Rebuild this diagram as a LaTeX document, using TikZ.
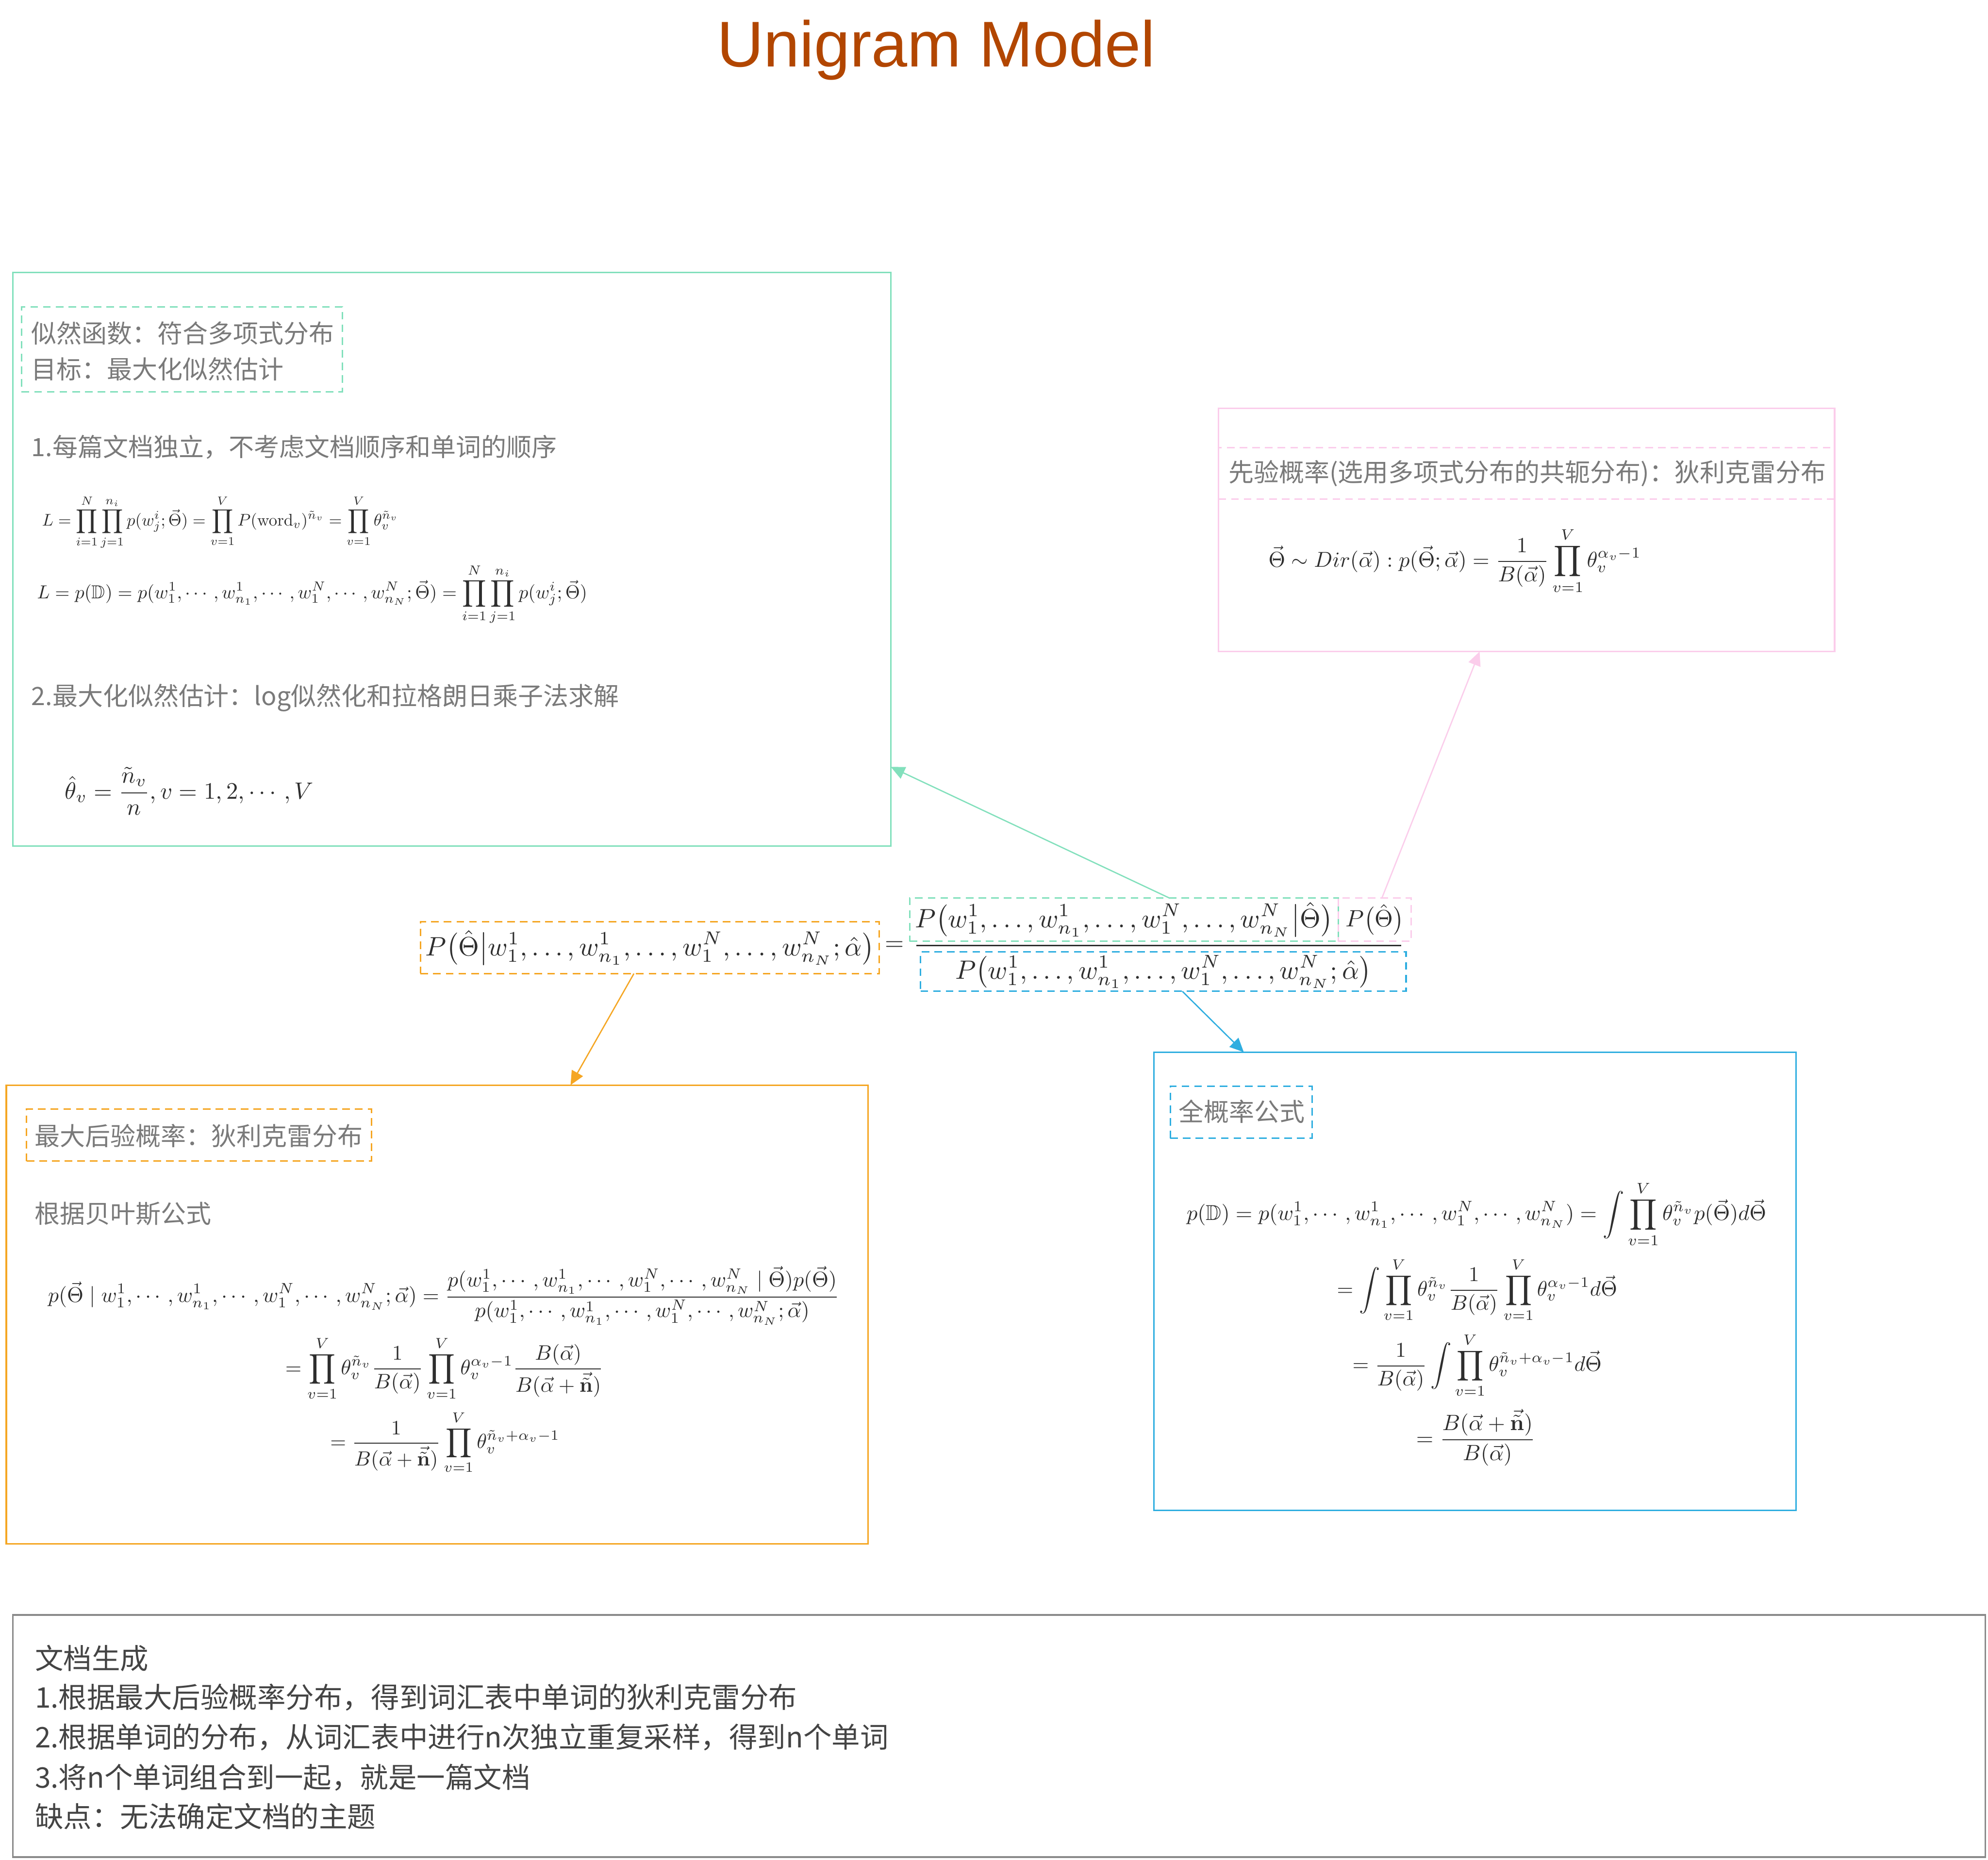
\documentclass[tikz,border=0pt]{standalone}
\usepackage[no-math]{fontspec}
\usepackage{amsmath,amssymb}
\usepackage{graphicx}
\usetikzlibrary{arrows.meta}
\setmainfont{Noto Sans CJK SC}
\newfontfamily\titlefont{Liberation Sans}
\definecolor{cgreen}{HTML}{82E0BC}
\definecolor{cpink}{HTML}{FBCDEB}
\definecolor{corange}{HTML}{F5A623}
\definecolor{cblue}{HTML}{2FAEE0}
\definecolor{cgray}{HTML}{8A8A8A}
\definecolor{labelgray}{HTML}{7A7A7A}
\definecolor{darktext}{HTML}{444444}
\definecolor{mathgray}{HTML}{2E2E2E}
\definecolor{ctitle}{HTML}{B24600}
\newcommand{\wseqc}{w_1^1,\cdots,w_{n_1}^1,\cdots,w_1^N,\cdots,w_{n_N}^N}
\newcommand{\wseql}{w_1^1,\ldots,w_{n_1}^1,\ldots,w_1^N,\ldots,w_{n_N}^N}
\newcommand{\vnt}{\vec{\tilde{\mathbf{n}}}}
\newcommand{\meq}[2]{\resizebox{#1pt}{!}{$\displaystyle #2$}}
\tikzset{
  box/.style={draw, line width=1.2pt, inner sep=0pt, outer sep=0pt, anchor=north west},
  dbox/.style={draw, line width=1.2pt, dash pattern=on 6pt off 4pt, inner sep=0pt, outer sep=0pt, text=mathgray},
  lbl/.style={font=\fontsize{19.9}{24}\selectfont, text=labelgray, inner sep=0pt, anchor=west},
  glbl/.style={font=\fontsize{22.4}{28}\selectfont, text=darktext, inner sep=0pt, anchor=west},
  eq/.style={inner sep=0pt, text=mathgray},
  arr/.style={line width=1pt, -{Triangle[length=11pt,width=10pt]}},
}
\begin{document}
\begin{tikzpicture}[x=1pt,y=-1pt]
\fill[white] (0,0) rectangle (1568,1467);
\useasboundingbox (0,0) rectangle (1568,1467);

% title
\node[anchor=base, font=\titlefont\fontsize{51}{60}\selectfont, text=ctitle, inner sep=0pt] (title) at (738.5,52.5) {Unigram Model};

% likelihood box
\node[box, draw=cgreen, minimum width=692.6pt, minimum height=452.5pt] (lik) at (10,215) {};
\node[dbox, draw=cgreen, minimum width=253pt, minimum height=67pt, anchor=north west] (likT) at (17,242) {};
\node[lbl] (likT1) at (24.6,263) {似然函数：符合多项式分布};
\node[lbl] (likT2) at (24.6,291) {目标：最大化似然估计};
\node[lbl] (likS1) at (24.6,352.6) {1.每篇文档独立，不考虑文档顺序和单词的顺序};
\node[eq, anchor=west] (likE1) at (33,412) {\meq{281}{L = \prod_{i=1}^N \prod_{j=1}^{n_i} p(w_j^i;\vec{\Theta}) = \prod_{v=1}^V P(\mathrm{word}_v)^{\tilde{n}_v} = \prod_{v=1}^V \theta_v^{\tilde{n}_v}}};
\node[eq, anchor=west] (likE2) at (29,469) {\meq{434}{L = p(\mathbb{D}) = p(\wseqc;\vec{\Theta}) = \prod_{i=1}^N\prod_{j=1}^{n_i} p(w_j^i;\vec{\Theta})}};
\node[lbl] (likS2) at (24.6,550.5) {2.最大化似然估计：log似然化和拉格朗日乘子法求解};
\node[eq, anchor=west] (likE3) at (51,624) {\meq{196}{\hat{\theta}_v = \frac{\tilde{n}_v}{n}, v = 1,2,\cdots,V}};

% prior box
\node[box, draw=cpink, minimum width=486pt, minimum height=192pt] (prior) at (961,322) {};
\node[dbox, draw=cpink, minimum width=486pt, minimum height=40.7pt, anchor=north west] (priorT) at (961,353) {};
\node[lbl, anchor=center] (priorL) at (1204.6,373.4) {先验概率(选用多项式分布的共轭分布)：狄利克雷分布};
\node[eq] (priorE) at (1147.5,442.4) {\meq{294}{\vec{\Theta} \sim Dir(\vec{\alpha}) : p(\vec{\Theta};\vec{\alpha}) = \frac{1}{B(\vec{\alpha})}\prod_{v=1}^V\theta_v^{\alpha_v-1}}};

% central Bayes formula
\node[dbox, draw=corange, minimum width=361.7pt, minimum height=41pt] (lhs) at (512.5,747.5) {\meq{354}{P\bigl(\hat{\Theta}\big|\wseql;\hat{\alpha}\bigr)}};
\node[eq] (eqsign) at (705.5,746) {\meq{15}{=}};
\node[dbox, draw=cgreen, minimum width=338pt, minimum height=34.2pt] (numG) at (886.55,725.4) {\meq{329.4}{P\bigl(\wseql\big|\hat{\Theta}\bigr)}};
\node[dbox, draw=cpink, minimum width=57.5pt, minimum height=34.2pt] (numP) at (1084.25,725.4) {\meq{46}{P\bigl(\hat{\Theta}\bigr)}};
\draw[line width=1.2pt, mathgray] (722.7,746) -- (1105.3,746);
\node[dbox, draw=cblue, minimum width=383pt, minimum height=31pt] (den) at (917.5,766.5) {\meq{328}{P\bigl(\wseql;\hat{\alpha}\bigr)}};

% posterior box
\node[box, draw=corange, minimum width=679.6pt, minimum height=362pt] (post) at (5,856) {};
\node[dbox, draw=corange, minimum width=272pt, minimum height=41pt, anchor=north west] (postT) at (21,875) {};
\node[lbl] (postL) at (27.2,896) {最大后验概率：狄利克雷分布};
\node[lbl] (postS) at (27.2,957.4) {根据贝叶斯公式};
\node[eq] (postE1) at (350,1022) {\meq{624}{p(\vec{\Theta}\mid\wseqc;\vec{\alpha}) = \frac{p(\wseqc\mid\vec{\Theta})p(\vec{\Theta})}{p(\wseqc;\vec{\alpha})}}};
\node[eq] (postE2) at (350.5,1079.5) {\meq{251}{= \prod_{v=1}^V\theta_v^{\tilde{n}_v}\frac{1}{B(\vec{\alpha})}\prod_{v=1}^V\theta_v^{\alpha_v-1}\frac{B(\vec{\alpha})}{B(\vec{\alpha}+\vnt)}}};
\node[eq] (postE3) at (351,1138) {\meq{181}{= \frac{1}{B(\vec{\alpha}+\vnt)}\prod_{v=1}^V\theta_v^{\tilde{n}_v+\alpha_v-1}}};

% total probability box
\node[box, draw=cblue, minimum width=506.6pt, minimum height=361.5pt] (total) at (910,830) {};
\node[dbox, draw=cblue, minimum width=112pt, minimum height=41pt, anchor=north west] (totalT) at (923,857) {};
\node[lbl] (totalL) at (929.5,877) {全概率公式};
\node[eq] (totE1) at (1164.5,958) {\meq{457}{p(\mathbb{D}) = p(\wseqc) = \int\prod_{v=1}^V\theta_v^{\tilde{n}_v}p(\vec{\Theta})d\vec{\Theta}}};
\node[eq] (totE2) at (1165,1017.5) {\meq{221}{= \int\prod_{v=1}^V\theta_v^{\tilde{n}_v}\frac{1}{B(\vec{\alpha})}\prod_{v=1}^V\theta_v^{\alpha_v-1}d\vec{\Theta}}};
\node[eq] (totE3) at (1165,1077) {\meq{196.5}{= \frac{1}{B(\vec{\alpha})}\int\prod_{v=1}^V\theta_v^{\tilde{n}_v+\alpha_v-1}d\vec{\Theta}}};
\node[eq] (totE4) at (1164,1134) {\meq{94}{= \frac{B(\vec{\alpha}+\vnt)}{B(\vec{\alpha})}}};

% document generation box
\node[box, draw=cgray, minimum width=1556pt, minimum height=191pt] (gen) at (10,1274) {};
\node[glbl] (gen1) at (27.4,1308) {文档生成};
\node[glbl] (gen2) at (27.4,1339) {1.根据最大后验概率分布，得到词汇表中单词的狄利克雷分布};
\node[glbl] (gen3) at (27.4,1370.5) {2.根据单词的分布，从词汇表中进行n次独立重复采样，得到n个单词};
\node[glbl] (gen4) at (27.4,1402) {3.将n个单词组合到一起，就是一篇文档};
\node[glbl] (gen5) at (27.4,1433) {缺点：无法确定文档的主题};

% connectors
\draw[arr, cgreen] ([xshift=35.5pt]numG.north) -- ([yshift=-163.75pt]lik.east);
\draw[arr, cpink] ([xshift=5.75pt]numP.north) -- ([xshift=-37pt]prior.south);
\draw[arr, corange] ([xshift=-12.5pt]lhs.south) -- ([xshift=105.2pt]post.north);
\draw[arr, cblue] ([xshift=15pt]den.south) -- ([xshift=-182.3pt]total.north);
\end{tikzpicture}
\end{document}
